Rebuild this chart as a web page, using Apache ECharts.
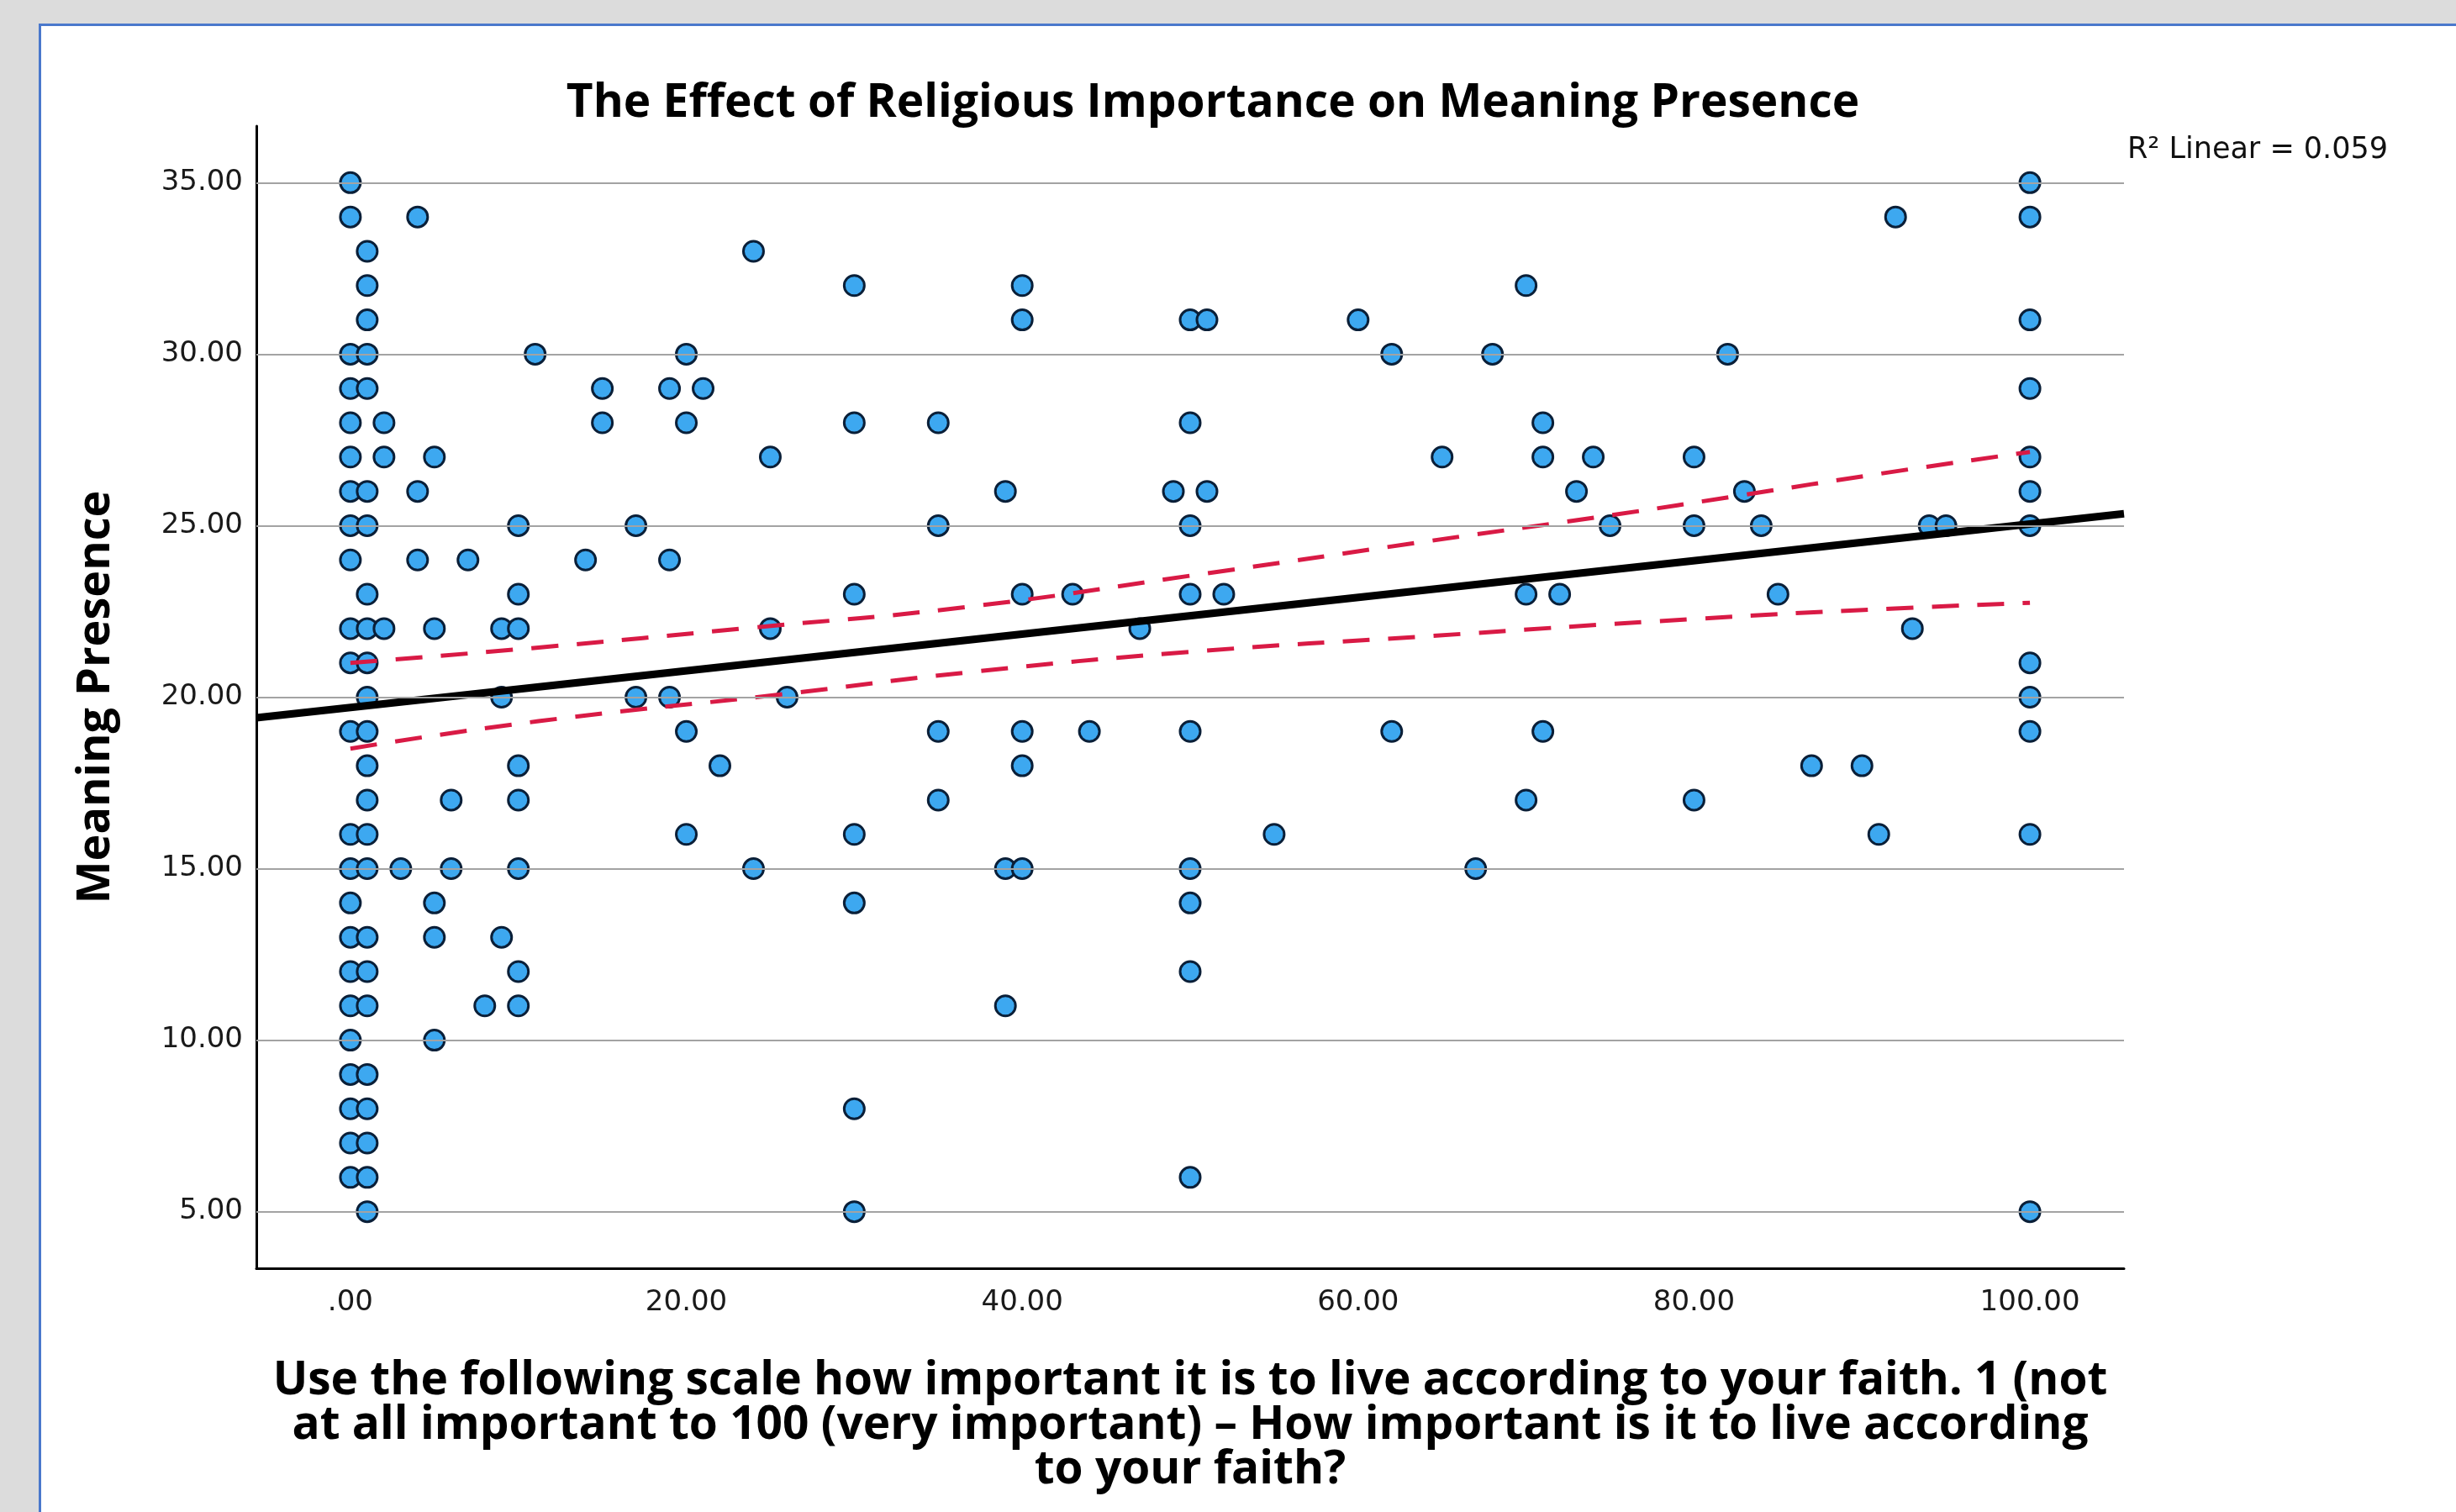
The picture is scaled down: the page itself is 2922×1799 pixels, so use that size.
<!DOCTYPE html>
<html>
<head>
<meta charset="utf-8">
<title>The Effect of Religious Importance on Meaning Presence</title>
<script src="https://cdn.jsdelivr.net/npm/echarts/dist/echarts.min.js"></script>
<style>
  html, body { margin: 0; padding: 0; width: 2922px; height: 1799px; overflow: hidden; background: #dcdcdc; }
  #panel { position: absolute; left: 46px; top: 28px; width: 2880px; height: 1775px; background: #ffffff;
           border-left: 3px solid #4a78cc; border-top: 3px solid #4a78cc; }
  #chart { position: absolute; left: 0; top: 0; width: 2922px; height: 1799px; }
</style>
</head>
<body>
<div id="panel"></div>
<div id="chart"></div>
<script>
// ---- data ----
const chartTitle = 'The Effect of Religious Importance on Meaning Presence';
const xAxisTitle = 'Use the following scale how important it is to live according to your faith. 1 (not\nat all important to 100 (very important) \u2013 How important is it to live according\nto your faith?';
const yAxisTitle = 'Meaning Presence';
const rSquared = 0.059;

const xTickValues = [0, 20, 40, 60, 80, 100];
const yTickValues = [5, 10, 15, 20, 25, 30, 35];

// [importance, meaning presence]
const observations = [
  [0,35],[0,34],[0,30],[0,29],[0,28],[0,27],[0,26],[0,25],[0,24],[0,22],[0,21],[0,19],[0,16],[0,15],[0,14],[0,13],[0,12],[0,11],[0,10],[0,9],[0,8],[0,7],[0,6],
  [1,33],[1,32],[1,31],[1,30],[1,29],[1,26],[1,25],[1,23],[1,22],[1,21],[1,20],[1,19],[1,18],[1,17],[1,16],[1,15],[1,13],[1,12],[1,11],[1,9],[1,8],[1,7],[1,6],[1,5],
  [2,28],[2,27],[2,22],[3,15],[4,34],[4,26],[4,24],
  [5,27],[5,22],[5,14],[5,13],[5,10],[6,17],[6,15],[7,24],[8,11],
  [9,22],[9,20],[9,13],
  [10,25],[10,23],[10,22],[10,18],[10,17],[10,15],[10,12],[10,11],
  [11,30],[14,24],[15,29],[15,28],[17,25],[17,20],[19,29],[19,24],[19,20],
  [20,30],[20,28],[20,19],[20,16],[21,29],[22,18],[24,33],[24,15],[25,27],[25,22],[26,20],
  [30,32],[30,28],[30,23],[30,16],[30,14],[30,8],[30,5],
  [35,28],[35,25],[35,19],[35,17],
  [39,26],[39,15],[39,11],[40,32],[40,31],[40,23],[40,19],[40,18],[40,15],
  [43,23],[44,19],[47,22],[49,26],
  [50,31],[50,28],[50,25],[50,23],[50,19],[50,15],[50,14],[50,12],[50,6],
  [51,31],[51,26],[52,23],[55,16],[60,31],[62,30],[62,19],[65,27],[67,15],[68,30],
  [70,32],[70,23],[70,17],[71,28],[71,27],[71,19],[72,23],[73,26],[74,27],[75,25],
  [80,27],[80,25],[80,17],[82,30],[83,26],[84,25],[85,23],[87,18],[90,18],[91,16],
  [92,34],[93,22],[94,25],[95,25],
  [100,35],[100,34],[100,31],[100,29],[100,27],[100,26],[100,25],[100,21],[100,20],[100,19],[100,16],[100,5]
];

// linear fit and its 95% mean confidence band
const fitLinePoints = [[-5.6, 19.40], [105.6, 25.35]];
const ciUpperPoints = [[0, 21.0], [10.8, 21.43], [24, 22.03], [36.7, 22.63], [50, 23.54], [64.2, 24.55], [75, 25.3], [83, 25.9], [91, 26.51], [100, 27.15]];
const ciLowerPoints = [[0, 18.5], [11.2, 19.3], [26, 20.1], [36.7, 20.72], [50, 21.32], [64.2, 21.78], [80, 22.28], [91.7, 22.58], [100, 22.75]];

// ---- chart ----
const tickFont = 'DejaVu Sans';
const titleFont = 'Open Sans';
const fmt = v => (v === 0 ? '.00' : v.toFixed(2));

const chart = echarts.init(document.getElementById('chart'), null, { renderer: 'canvas' });
chart.setOption({
  backgroundColor: 'transparent',
  animation: false,
  title: [
    {
      text: chartTitle,
      left: 1443, top: 123, padding: 0,
      textAlign: 'center', textVerticalAlign: 'middle',
      textStyle: { fontFamily: titleFont, fontWeight: 'bold', fontSize: 55, color: '#000' }
    },
    {
      text: 'R\u00B2 Linear = ' + rSquared.toFixed(3),
      left: 2531, top: 179, padding: 0,
      textAlign: 'left', textVerticalAlign: 'middle',
      textStyle: { fontFamily: tickFont, fontWeight: 'normal', fontSize: 35, color: '#111' }
    }
  ],
  grid: { left: 305, right: 395, top: 150, bottom: 290, containLabel: false },
  xAxis: {
    type: 'value', min: -5.6, max: 105.6,
    axisLine: { show: true, onZero: false, lineStyle: { color: '#000', width: 3 } },
    axisTick: { show: false },
    splitLine: { show: false },
    axisLabel: { customValues: xTickValues, formatter: fmt, margin: 24, fontFamily: tickFont, fontSize: 34, color: '#1a1a1a' },
    name: xAxisTitle, nameLocation: 'middle', nameGap: 108,
    nameTextStyle: { fontFamily: titleFont, fontWeight: 'bold', fontSize: 55, lineHeight: 53, color: '#000', align: 'center' }
  },
  yAxis: {
    type: 'value', min: 3.35, max: 36.65,
    axisLine: { show: true, onZero: false, lineStyle: { color: '#000', width: 3 } },
    axisTick: { show: false },
    splitLine: { show: false },
    axisLabel: { customValues: yTickValues, formatter: fmt, margin: 16, padding: [5, 0, 0, 0], fontFamily: tickFont, fontSize: 34, color: '#1a1a1a' },
    name: yAxisTitle, nameLocation: 'middle', nameGap: 165, nameRotate: 90,
    nameTextStyle: { fontFamily: titleFont, fontWeight: 'bold', fontSize: 54, lineHeight: 50, color: '#000' }
  },
  series: [
    {
      name: 'gridlines', type: 'scatter', data: [], z: 1, silent: true,
      markLine: {
        silent: true, symbol: 'none', animation: false,
        label: { show: false },
        lineStyle: { color: '#a3a3a3', width: 2, type: 'solid' },
        emphasis: { disabled: true },
        data: yTickValues.map(v => ({ yAxis: v }))
      }
    },
    {
      name: 'observations', type: 'scatter', data: observations, z: 2,
      symbol: 'circle', symbolSize: 24,
      itemStyle: { color: '#3da8f0', borderColor: '#0a1f38', borderWidth: 3, opacity: 1 },
      emphasis: { disabled: true }
    },
    {
      name: 'ciUpper', type: 'line', data: ciUpperPoints, z: 3, smooth: true, showSymbol: false, symbol: 'none',
      lineStyle: { color: '#d91a45', width: 5, type: [32, 22] }, emphasis: { disabled: true }
    },
    {
      name: 'ciLower', type: 'line', data: ciLowerPoints, z: 3, smooth: true, showSymbol: false, symbol: 'none',
      lineStyle: { color: '#d91a45', width: 5, type: [32, 22] }, emphasis: { disabled: true }
    },
    {
      name: 'fit', type: 'line', data: fitLinePoints, z: 4, showSymbol: false, symbol: 'none',
      lineStyle: { color: '#000', width: 9 }, emphasis: { disabled: true }
    }
  ]
});
</script>
</body>
</html>
